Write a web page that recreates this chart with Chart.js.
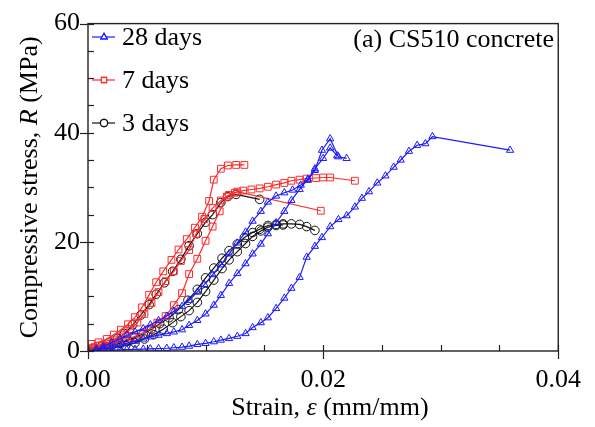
<!DOCTYPE html>
<html>
<head>
<meta charset="utf-8">
<script src="https://cdn.jsdelivr.net/npm/chart.js@4"></script>
<style>
  html, body { margin: 0; padding: 0; background: #fff; }
  #wrap { width: 595px; height: 427px; }
</style>
</head>
<body>
<div id="wrap"><canvas id="stressChart" width="595" height="427"></canvas></div>
<script>
// Strain (mm/mm) vs compressive stress (MPa), three specimens per age.
const days28a = [[0,0],[0.0007,0.3],[0.0013,0.8],[0.002,1.5],[0.0027,2.2],[0.0033,2.9],[0.004,3.5],[0.0047,4.1],[0.0053,4.8],[0.006,5.6],[0.0067,6.4],[0.0073,7.3],[0.008,8.2],[0.0086,9.3],[0.0093,10.8],[0.0099,12.2],[0.0106,14.0],[0.0113,15.8],[0.012,17.8],[0.0127,19.8],[0.0134,21.8],[0.014,23.8],[0.0147,25.6],[0.0153,27.3],[0.016,28.4],[0.0167,29.0],[0.0174,29.5],[0.0181,30.4],[0.0187,31.3],[0.0193,33.1],[0.0199,36.8],[0.0206,38.9],[0.0213,35.6],[0.022,35.3]];
const days28b = [[0,0],[0.0007,0.2],[0.0013,0.5],[0.002,0.8],[0.0027,1.1],[0.0033,1.4],[0.004,1.8],[0.0047,2.2],[0.0053,2.6],[0.006,2.9],[0.0067,3.2],[0.0073,3.5],[0.008,3.9],[0.0086,4.7],[0.0093,5.6],[0.01,6.8],[0.0107,8.4],[0.0113,10.2],[0.012,12.4],[0.0127,14.2],[0.0134,16.0],[0.014,17.8],[0.0147,19.6],[0.0153,21.5],[0.016,23.5],[0.0167,25.6],[0.0173,27.6],[0.018,29.6],[0.0187,31.5],[0.0193,33.4],[0.02,35.3],[0.0206,37.2],[0.0212,35.8]];
const days28c = [[0,0],[0.0007,0.05],[0.0013,0.1],[0.002,0.15],[0.0027,0.2],[0.0033,0.25],[0.004,0.3],[0.0047,0.35],[0.0053,0.4],[0.006,0.45],[0.0067,0.5],[0.0073,0.6],[0.008,0.7],[0.0086,0.9],[0.0093,1.2],[0.01,1.4],[0.0107,1.7],[0.0113,2.0],[0.012,2.3],[0.0127,2.7],[0.0134,3.2],[0.014,4.3],[0.0147,5.2],[0.0153,6.1],[0.016,7.8],[0.0167,9.7],[0.0173,11.5],[0.018,13.5],[0.0186,17.2],[0.0193,19.2],[0.0199,20.8],[0.0206,22.8],[0.0213,24.1],[0.022,24.8],[0.0227,26.4],[0.0233,28.0],[0.0239,29.2],[0.0246,30.8],[0.0253,32.1],[0.026,33.7],[0.0266,35.0],[0.0273,36.6],[0.028,37.7],[0.0287,38.0],[0.0293,39.3],[0.0359,36.8]];

const days7a = [[0,0],[0.0003,1.3],[0.0009,1.6],[0.0016,2.2],[0.0022,3.0],[0.0028,3.9],[0.0034,4.9],[0.004,6.2],[0.0046,8.0],[0.0052,10.3],[0.0058,12.6],[0.0064,14.6],[0.0071,16.7],[0.0077,18.6],[0.0084,20.5],[0.0091,22.6],[0.0097,24.6],[0.0103,27.5],[0.0107,31.4],[0.0113,33.4],[0.0119,34.0],[0.0126,34.1],[0.0133,34.1]];
const days7b = [[0,0],[0.0004,0.6],[0.001,1.0],[0.0017,1.4],[0.0023,2.1],[0.003,3.0],[0.0036,4.0],[0.0042,5.2],[0.0048,6.8],[0.0054,8.8],[0.006,10.8],[0.0066,12.8],[0.0073,14.6],[0.0079,16.5],[0.0086,18.5],[0.0092,21.5],[0.0099,24.2],[0.0106,26.2],[0.0113,27.6],[0.012,28.6],[0.0127,29.2],[0.0198,25.7]];
const days7c = [[0,0],[0.0006,0.5],[0.0013,0.9],[0.0019,1.3],[0.0026,1.7],[0.0032,2.1],[0.0039,2.6],[0.0045,3.2],[0.0052,4.0],[0.0059,5.2],[0.0066,6.4],[0.0073,8.4],[0.008,10.6],[0.0086,14.1],[0.0093,16.9],[0.01,20.2],[0.0106,22.8],[0.0112,25.6],[0.0118,28.3],[0.0125,29.0],[0.0132,29.4],[0.0139,29.6],[0.0146,29.8],[0.0153,30.1],[0.016,30.5],[0.0167,30.8],[0.0173,31.2],[0.018,31.4],[0.0186,31.6],[0.0194,31.7],[0.02,31.8],[0.0206,31.8],[0.0227,31.2]];

const days3a = [[0,0],[0.0006,0.5],[0.0012,1.0],[0.0018,1.6],[0.0025,2.3],[0.0031,3.2],[0.0038,4.8],[0.0045,6.6],[0.0052,8.5],[0.0058,10.4],[0.0065,12.5],[0.0072,14.6],[0.0079,16.8],[0.0086,19.3],[0.0093,21.5],[0.01,23.6],[0.0106,25.0],[0.0113,27.2],[0.0119,28.3],[0.0126,28.7],[0.0146,27.8]];
const days3b = [[0,0],[0.0007,0.3],[0.0013,0.6],[0.002,1.0],[0.0027,1.4],[0.0033,1.9],[0.004,2.5],[0.0047,3.1],[0.0054,4.0],[0.0061,5.0],[0.0069,6.1],[0.0077,7.6],[0.0085,9.3],[0.0093,11.3],[0.01,13.4],[0.0107,15.2],[0.0114,17.0],[0.012,18.4],[0.0127,19.6],[0.0133,20.8],[0.014,21.7],[0.0146,22.3],[0.0153,23.0],[0.016,23.2],[0.0166,23.3],[0.0173,23.3],[0.018,23.2],[0.0186,22.8],[0.0193,22.1]];
const days3c = [[0,0],[0.0008,0.2],[0.0016,0.4],[0.0024,0.7],[0.0032,1.0],[0.004,1.5],[0.0048,2.2],[0.0056,3.0],[0.0064,4.0],[0.0072,5.2],[0.0079,6.3],[0.0086,7.4],[0.0093,8.9],[0.01,10.9],[0.0107,13.0],[0.0114,15.1],[0.012,16.7],[0.0127,18.2],[0.0134,19.7],[0.014,21.0],[0.0147,22.0],[0.0153,22.7],[0.016,23.0],[0.0166,23.1]];

const xTicks = [0, 0.02, 0.04];
const yTicks = [0, 20, 40, 60];

const FONT = "'Liberation Serif', 'DejaVu Serif', serif";
const BLUE = "#1a1aff";
const RED = "#ff2a2a";
const BLACK = "#111111";

const series = [
  { label: "28 days", color: BLUE, shape: "triangle", radius: 4.2, sets: [days28a, days28b, days28c] },
  { label: "7 days", color: RED, shape: "rect", radius: 4.8, sets: [days7a, days7b, days7c] },
  { label: "3 days", color: BLACK, shape: "circle", radius: 4.3, sets: [days3a, days3b, days3c] }
];

const datasets = [];
series.forEach(s => {
  s.sets.forEach(d => {
    datasets.push({
      label: s.label,
      data: d,
      borderColor: s.color,
      borderWidth: 1.2,
      pointStyle: s.shape,
      pointRadius: s.radius,
      pointBorderColor: s.color,
      pointBorderWidth: 1,
      pointBackgroundColor: "rgba(255,255,255,0)",
      tension: 0,
      fill: false
    });
  });
});

function isLabelled(v, list) {
  return list.some(t => Math.abs(t - v) < 1e-9);
}

// Draws the box, inward ticks, axis titles, the legend and the panel title.
const decorations = {
  id: "decorations",
  afterDraw(chart) {
    const ctx = chart.ctx;
    const a = chart.chartArea;
    const xs = chart.scales.x;
    const ys = chart.scales.y;
    ctx.save();
    ctx.strokeStyle = "#222";
    ctx.lineWidth = 1.4;
    ctx.strokeRect(a.left, a.top, a.right - a.left, a.bottom - a.top);

    ctx.lineWidth = 1.2;
    xs.ticks.forEach(t => {
      const px = Math.round(xs.getPixelForValue(t.value)) + 0.5;
      const major = isLabelled(t.value, xTicks);
      ctx.beginPath();
      ctx.moveTo(px, a.bottom - 6);
      ctx.lineTo(px, a.bottom + (major ? 8 : 0));
      ctx.stroke();
    });
    ys.ticks.forEach(t => {
      const py = Math.round(ys.getPixelForValue(t.value)) + 0.5;
      const major = isLabelled(t.value, yTicks);
      ctx.beginPath();
      ctx.moveTo(a.left + 6, py);
      ctx.lineTo(a.left - (major ? 8 : 0), py);
      ctx.stroke();
    });

    // mixed upright / italic text
    function drawParts(parts, x, y) {
      let total = 0;
      parts.forEach(p => {
        ctx.font = (p.italic ? "italic " : "") + "26px " + FONT;
        total += ctx.measureText(p.text).width;
      });
      let cx = x - total / 2;
      parts.forEach(p => {
        ctx.font = (p.italic ? "italic " : "") + "26px " + FONT;
        ctx.fillText(p.text, cx, y);
        cx += ctx.measureText(p.text).width;
      });
    }
    ctx.fillStyle = "#000";
    ctx.textBaseline = "middle";
    ctx.textAlign = "left";
    drawParts([{ text: "Strain, " }, { text: "\u03b5", italic: true }, { text: " (mm/mm)" }], 330, 408);

    ctx.save();
    ctx.translate(30, (a.top + a.bottom) / 2);
    ctx.rotate(-Math.PI / 2);
    drawParts([{ text: "Compressive stress, " }, { text: "R", italic: true }, { text: " (MPa)" }], 0, 0);
    ctx.restore();

    // panel title
    ctx.font = "26px " + FONT;
    ctx.textAlign = "right";
    ctx.fillText("(a) CS510 concrete", 554, 40);

    // legend
    ctx.textAlign = "left";
    const rows = [37, 80, 123];
    series.forEach((s, i) => {
      const y = rows[i];
      ctx.strokeStyle = s.color;
      ctx.lineWidth = 1.2;
      ctx.beginPath();
      ctx.moveTo(92, y);
      ctx.lineTo(115, y);
      ctx.stroke();
      ctx.fillStyle = "#fff";
      Chart.helpers.drawPoint(ctx, { pointStyle: s.shape, radius: 3.6, borderWidth: 1 }, 104, y);
      ctx.fill();
      ctx.stroke();
      ctx.fillStyle = "#000";
      ctx.font = "26px " + FONT;
      ctx.fillText(s.label, 122, y + 1);
    });
    ctx.restore();
  }
};

new Chart(document.getElementById("stressChart"), {
  type: "line",
  data: { datasets: datasets },
  options: {
    responsive: false,
    animation: false,
    layout: { padding: { top: 18, right: 35, left: 0, bottom: 0 } },
    plugins: { legend: { display: false }, tooltip: { enabled: false } },
    scales: {
      x: {
        type: "linear",
        min: 0,
        max: 0.04,
        grid: { display: false, drawTicks: false },
        border: { display: false },
        afterFit: s => { s.height = 76; },
        ticks: {
          stepSize: 0.005,
          padding: 14,
          autoSkip: false,
          maxRotation: 0,
          color: "#000",
          font: { family: FONT, size: 26 },
          callback: v => isLabelled(v, xTicks) ? v.toFixed(2) : ""
        }
      },
      y: {
        type: "linear",
        min: 0,
        max: 60,
        grid: { display: false, drawTicks: false },
        border: { display: false },
        afterFit: s => { s.width = 88; },
        ticks: {
          stepSize: 5,
          padding: 8,
          autoSkip: false,
          color: "#000",
          font: { family: FONT, size: 26 },
          callback: v => isLabelled(v, yTicks) ? String(v) : ""
        }
      }
    }
  },
  plugins: [decorations]
});
</script>
</body>
</html>
